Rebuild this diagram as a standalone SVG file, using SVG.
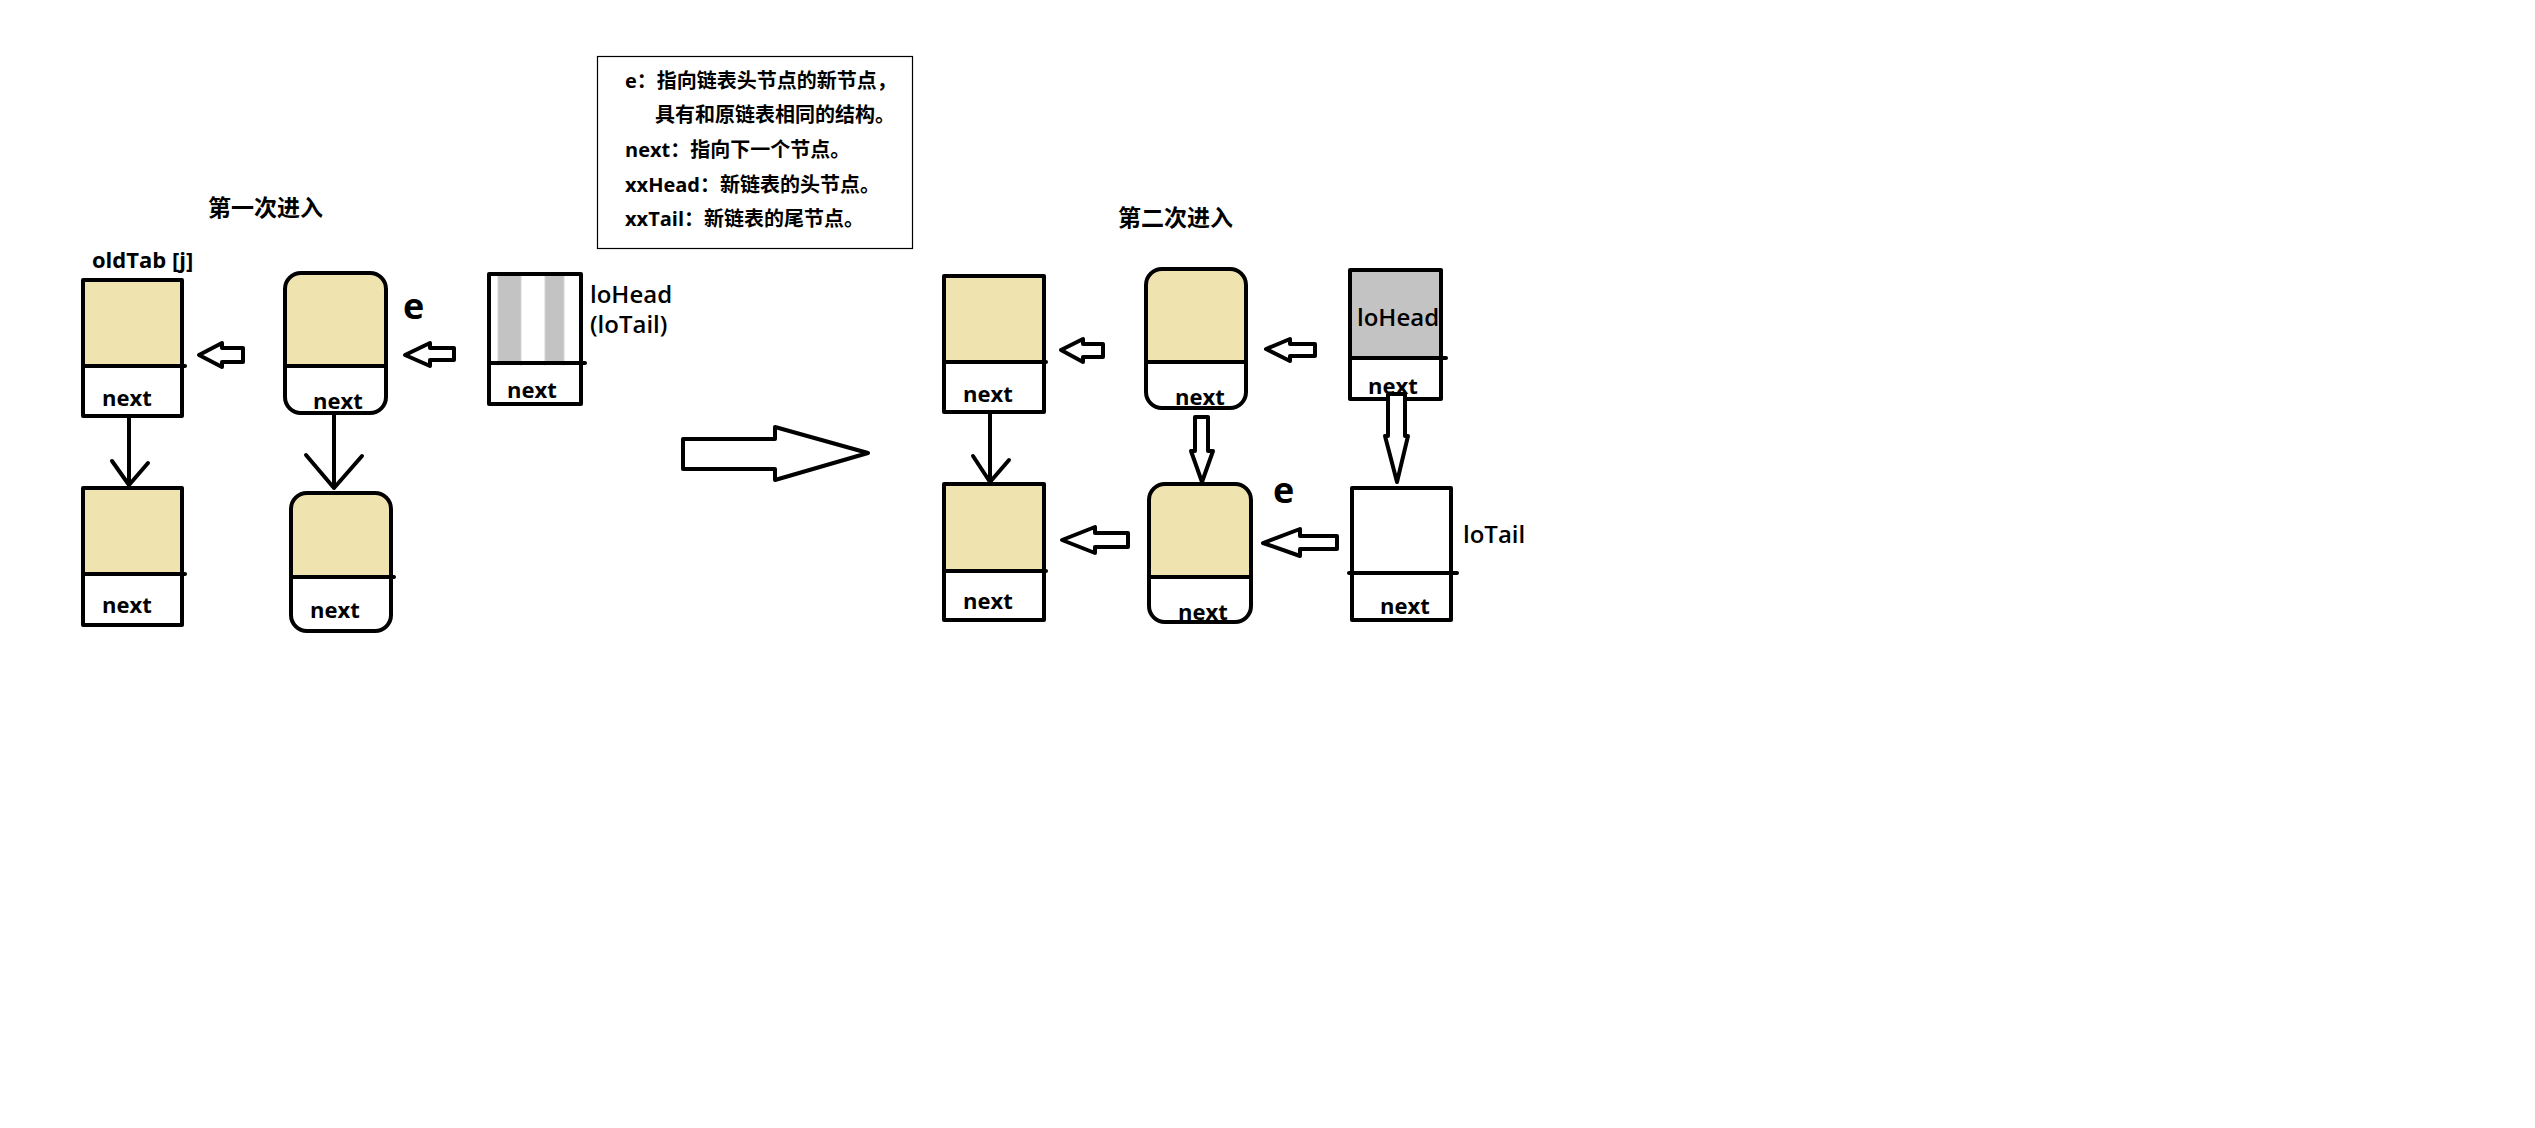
<svg xmlns="http://www.w3.org/2000/svg" width="2535" height="1128" viewBox="0 0 2535 1128">
<style>
.bg{fill:#ffffff}
.tan{fill:#EFE4B0}
.wht{fill:#ffffff}
.gry{fill:#C3C3C3}
.ol{fill:none;stroke:#000;stroke-width:4;stroke-linejoin:round}
.dv{stroke:#000;stroke-width:4;stroke-linecap:round}
.ln{fill:none;stroke:#000;stroke-width:4;stroke-linecap:round;stroke-linejoin:round}
.ha{fill:#fff;stroke:#000;stroke-width:4;stroke-linejoin:round}
.nx{font-family:"Open Sans","Noto Sans CJK SC",sans-serif;font-weight:700;font-size:22px;fill:#000}
.lb{font-family:"Open Sans","Noto Sans CJK SC",sans-serif;font-weight:600;font-size:24px;fill:#000}
.ee{font-family:"Open Sans","Noto Sans CJK SC",sans-serif;font-weight:700;font-size:36px;fill:#000}
.tt{font-family:"Noto Sans CJK SC",sans-serif;font-weight:700;font-size:23px;fill:#000}
.bx{font-family:"Open Sans","Noto Sans CJK SC",sans-serif;font-weight:700;font-size:20px;fill:#000}
</style>
<rect class="bg" x="0" y="0" width="2535" height="1128"/>

<!-- legend -->
<g id="legend">
<rect x="597.5" y="56.5" width="315" height="192" fill="#fff" stroke="#000" stroke-width="1.2"/>
<text class="bx" x="625" y="88">e：指向链表头节点的新节点，</text>
<text class="bx" x="655" y="122">具有和原链表相同的结构。</text>
<text class="bx" x="625" y="157">next：指向下一个节点。</text>
<text class="bx" x="625" y="192">xxHead：新链表的头节点。</text>
<text class="bx" x="625" y="226">xxTail：新链表的尾节点。</text>
</g>

<g id="titles">
<text class="tt" x="208" y="216">第一次进入</text>
<text class="tt" x="1118" y="226">第二次进入</text>
</g>

<!-- Part 1 nodes -->
<g id="n1-oldTab">
<rect class="tan" x="83" y="280" width="99" height="86"/>
<rect class="wht" x="83" y="366" width="99" height="50"/>
<rect class="ol" x="83" y="280" width="99" height="136"/>
<line class="dv" x1="83" y1="366" x2="185" y2="366"/>
<text class="nx" x="102" y="406">next</text>
<text class="nx" x="92" y="268">oldTab [j]</text>
</g>
<g id="n2">
<rect class="tan" x="83" y="488" width="99" height="86"/>
<rect class="wht" x="83" y="574" width="99" height="51"/>
<rect class="ol" x="83" y="488" width="99" height="137"/>
<line class="dv" x1="83" y1="574" x2="185" y2="574"/>
<text class="nx" x="102" y="613">next</text>
</g>
<g id="n3-e">
<path class="tan" d="M285,366 V289 Q285,273 301,273 H370 Q386,273 386,289 V366 Z"/>
<path class="wht" d="M285,366 V397 Q285,413 301,413 H370 Q386,413 386,397 V366 Z"/>
<rect class="ol" x="285" y="273" width="101" height="140" rx="16" ry="16"/>
<line class="dv" x1="285" y1="366" x2="386" y2="366"/>
<text class="nx" x="313" y="409">next</text>
<text class="ee" x="403" y="319">e</text>
</g>
<g id="n4">
<path class="tan" d="M291,577 V509 Q291,493 307,493 H375 Q391,493 391,509 V577 Z"/>
<path class="wht" d="M291,577 V615 Q291,631 307,631 H375 Q391,631 391,615 V577 Z"/>
<rect class="ol" x="291" y="493" width="100" height="138" rx="16" ry="16"/>
<line class="dv" x1="291" y1="577" x2="394" y2="577"/>
<text class="nx" x="310" y="618">next</text>
</g>
<g id="n5-loHead">
<rect class="wht" x="489" y="274" width="92" height="130"/>
<rect class="gry" x="498" y="276" width="23" height="87"/>
<rect class="gry" x="545" y="276" width="19" height="87"/>
<line x1="498" y1="276" x2="498" y2="366" stroke="#d4d4d4" stroke-width="1"/>
<line x1="521" y1="276" x2="521" y2="366" stroke="#d4d4d4" stroke-width="1"/>
<line x1="545" y1="276" x2="545" y2="366" stroke="#d4d4d4" stroke-width="1"/>
<line x1="564" y1="276" x2="564" y2="366" stroke="#d4d4d4" stroke-width="1"/>
<rect class="ol" x="489" y="274" width="92" height="130"/>
<line class="dv" x1="489" y1="363" x2="585" y2="363"/>
<text class="nx" x="507" y="398">next</text>
<text class="lb" x="590" y="303">loHead</text>
<text class="lb" x="590" y="333">(loTail)</text>
</g>

<!-- Part 2 nodes -->
<g id="m1">
<rect class="tan" x="944" y="276" width="100" height="86"/>
<rect class="wht" x="944" y="362" width="100" height="50"/>
<rect class="ol" x="944" y="276" width="100" height="136"/>
<line class="dv" x1="944" y1="362" x2="1046" y2="362"/>
<text class="nx" x="963" y="402">next</text>
</g>
<g id="m2">
<rect class="tan" x="944" y="484" width="100" height="87"/>
<rect class="wht" x="944" y="571" width="100" height="49"/>
<rect class="ol" x="944" y="484" width="100" height="136"/>
<line class="dv" x1="944" y1="571" x2="1046" y2="571"/>
<text class="nx" x="963" y="609">next</text>
</g>
<g id="m3">
<path class="tan" d="M1146,362 V285 Q1146,269 1162,269 H1230 Q1246,269 1246,285 V362 Z"/>
<path class="wht" d="M1146,362 V392 Q1146,408 1162,408 H1230 Q1246,408 1246,392 V362 Z"/>
<rect class="ol" x="1146" y="269" width="100" height="139" rx="16" ry="16"/>
<line class="dv" x1="1146" y1="362" x2="1246" y2="362"/>
<text class="nx" x="1175" y="405">next</text>
</g>
<g id="m4-e">
<path class="tan" d="M1149,577 V500 Q1149,484 1165,484 H1235 Q1251,484 1251,500 V577 Z"/>
<path class="wht" d="M1149,577 V606 Q1149,622 1165,622 H1235 Q1251,622 1251,606 V577 Z"/>
<rect class="ol" x="1149" y="484" width="102" height="138" rx="16" ry="16"/>
<line class="dv" x1="1149" y1="577" x2="1251" y2="577"/>
<text class="nx" x="1178" y="620">next</text>
<text class="ee" x="1273" y="503">e</text>
</g>
<g id="m5-loHead">
<rect class="gry" x="1350" y="270" width="91" height="88"/>
<rect class="wht" x="1350" y="358" width="91" height="41"/>
<rect class="ol" x="1350" y="270" width="91" height="129"/>
<line class="dv" x1="1350" y1="358" x2="1446" y2="358"/>
<text class="lb" x="1357" y="326">loHead</text>
<text class="nx" x="1368" y="394">next</text>
</g>
<g id="m6-loTail">
<rect class="wht" x="1352" y="488" width="99" height="132"/>
<rect class="ol" x="1352" y="488" width="99" height="132"/>
<line class="dv" x1="1349" y1="573" x2="1457" y2="573"/>
<text class="nx" x="1380" y="614">next</text>
<text class="lb" x="1463" y="543">loTail</text>
</g>

<!-- connectors -->
<g id="connectors">
<polygon class="ha" points="199,355 222,343 222,348 243,348 243,362 222,362 222,367"/>
<polygon class="ha" points="405,355 430,343 430,348 454,348 454,360 430,360 430,366"/>
<path class="ln" d="M129,418 V485 M112,461 L129,485 L148,463"/>
<path class="ln" d="M334,415 V488 M306,455 L334,488 L362,456"/>
<polygon class="ha" points="683,439 775,439 775,427 868,453 775,480 775,469 683,469"/>

<polygon class="ha" points="1061,350 1083,339 1083,344 1103,344 1103,357 1083,357 1083,362"/>
<polygon class="ha" points="1266,349 1290,339 1290,344 1315,344 1315,356 1290,356 1290,361"/>
<path class="ln" d="M990,414 V482 M973,456 L990,482 L1009,460"/>
<polygon class="ha" points="1195,417 1208,417 1208,451 1213,451 1202,482 1191,451 1195,451"/>
<polygon class="ha" points="1388,394 1405,394 1405,436 1408,436 1397,482 1385,436 1388,436"/>
<polygon class="ha" points="1062,540 1095,527 1095,533 1128,533 1128,547 1095,547 1095,553"/>
<polygon class="ha" points="1263,543 1300,529 1300,536 1337,536 1337,549 1300,549 1300,556"/>
</g>
</svg>
